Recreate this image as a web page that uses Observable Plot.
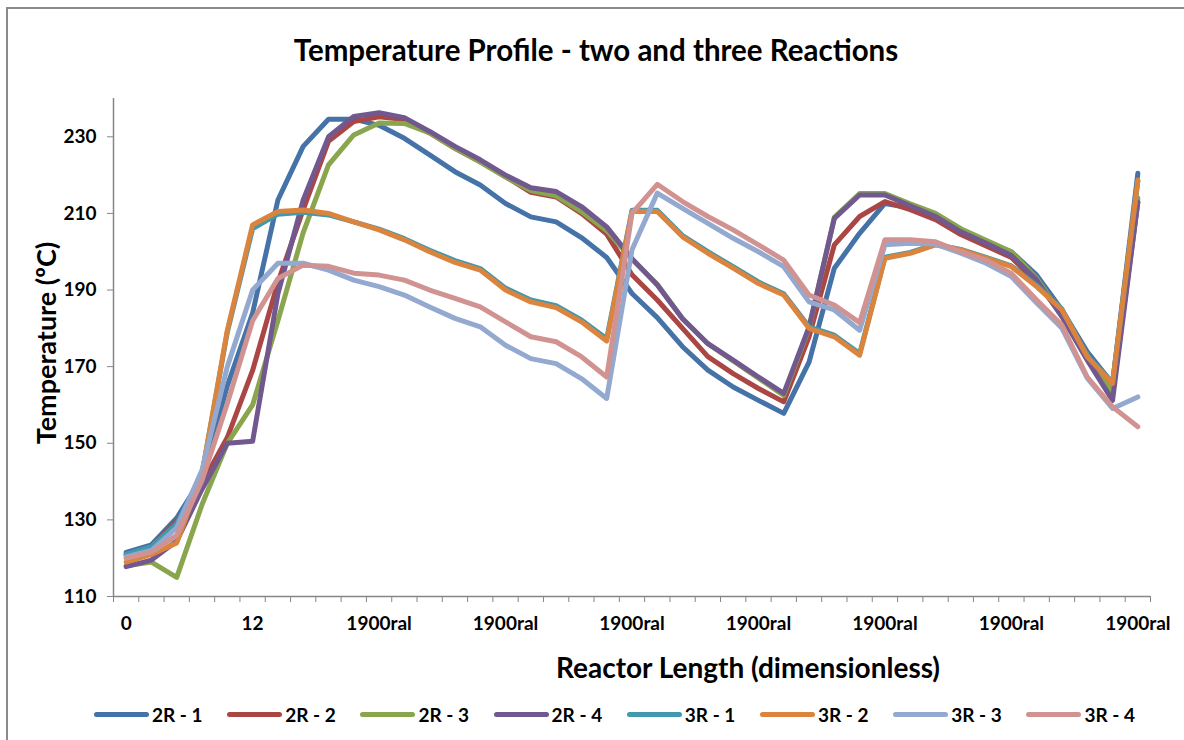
<!DOCTYPE html>
<html>
<head>
<meta charset="utf-8">
<script src="https://cdn.jsdelivr.net/npm/d3@7"></script>
<script src="https://cdn.jsdelivr.net/npm/@observablehq/plot@0.6"></script>
<style>
  body { margin: 0; background: #fff; font-family: Lato, "Open Sans", sans-serif; }
  #wrap { position: relative; width: 1184px; height: 740px; overflow: hidden; background: #fff; }
  #frame { position: absolute; left: 6px; top: 7px; width: 1220px; height: 800px; border: 2px solid #8a8a8a; box-sizing: border-box; }
  #chart { position: absolute; left: 0; top: 0; }
  .txt { position: absolute; font-weight: bold; color: #000; white-space: nowrap; line-height: 1.2; }
  #title { top: 32px; left: 596px; transform: translateX(-50%); font-size: 29.5px; }
  #xtitle { top: 651px; left: 748px; transform: translateX(-50%); font-size: 28px; }
  #ytitle { top: 343px; left: 46px; transform: translate(-50%, -50%) rotate(-90deg); font-size: 27px; }
  .leg { position: absolute; top: 703px; display: flex; align-items: center; font-weight: bold; font-size: 19px; white-space: nowrap; }
  .leg span.sw { display: inline-block; width: 55px; height: 5px; border-radius: 3px; margin-right: 3px; }
</style>
</head>
<body>
<div id="wrap">
  <div id="frame"></div>
  <div id="chart"></div>
  <div id="title" class="txt">Temperature Profile - two and three Reactions</div>
  <div id="xtitle" class="txt">Reactor Length (dimensionless)</div>
  <div id="ytitle" class="txt">Temperature (ºC)</div>
</div>
<script>
// ---- data ----
const seriesNames = ["2R - 1", "2R - 2", "2R - 3", "2R - 4", "3R - 1", "3R - 2", "3R - 3", "3R - 4"];
const seriesColors = ["#4572A7", "#AA4643", "#89A54E", "#71588F", "#4198AF", "#DB843D", "#93A9CF", "#D19392"];

// x tick labels shown every 5th category
const xTickLabels = ["0", "12", "1900ral", "1900ral", "1900ral", "1900ral", "1900ral", "1900ral", "1900ral"];
const yTicks = [110, 130, 150, 170, 190, 210, 230];

const s2R1 = [121.5, 123.5, 130.5, 141, 165, 184, 213.5, 227.5, 234.6, 234.6,
  233, 229.6, 225.3, 220.9, 217.4, 212.6, 209.1, 207.8, 203.7, 198.5,
  189.1, 182.8, 175.2, 169.1, 164.7, 161.2, 157.8, 171.2, 195.7, 204.8,
  212.6, 211.5, 209.2, 205.5, 202.5, 200, 193.9, 184.8, 173.9, 165.6,
  220.5];
const s2R2 = [120.8, 123, 129.6, 139.5, 151.5, 169, 192, 211, 228.8, 234,
  235.2, 234.5, 231, 227, 223.5, 219.6, 215.5, 214.3, 210, 204.6,
  194, 187.4, 180, 172.6, 168.2, 164.3, 160.8, 177.8, 201.8, 209.2,
  213.1, 211, 208.4, 204.5, 201.5, 198.5, 192, 183.5, 172, 163,
  213];
const s2R3 = [118, 119, 115, 134, 150, 160, 182, 205, 222.7, 230.5,
  233.6, 233.5, 231, 227, 223.4, 219.5, 216, 214.6, 210.5, 205.5,
  198, 191.5, 182.5, 176, 171.5, 167, 162.5, 180, 209, 215.2,
  215.2, 212.5, 210, 206, 203, 200, 193, 183.5, 173, 163.4,
  214];
const s2R4 = [117.8, 119.5, 124.5, 138, 150, 150.5, 189, 213.5, 230, 235.3,
  236.3, 235, 231.4, 227.5, 224, 220, 216.7, 215.7, 211.8, 206.5,
  198.2, 191.3, 182.5, 176, 171.7, 167.3, 163, 180.4, 208.7, 214.8,
  214.8, 212, 209.2, 205.2, 202.2, 199, 192.6, 183, 171.7, 161.2,
  213];
const s3R1 = [121, 123, 129, 142, 179, 206, 209.8, 210.3, 209.6, 207.8,
  205.9, 203.4, 200.4, 197.7, 195.6, 190.5, 187.4, 185.9, 182.2, 177.3,
  210.8, 210.8, 204.2, 200, 196.1, 192.1, 189, 180.4, 178.2, 173.4,
  198.6, 199.8, 201.9, 200.6, 198.5, 196.3, 191.2, 185, 172.8, 165.8,
  218.5];
const s3R2 = [119, 121, 124, 142, 179.5, 207, 210.5, 210.9, 210, 207.8,
  205.7, 203.1, 200, 197.2, 195.2, 190, 186.9, 185.4, 181.7, 176.7,
  210.5, 210.5, 203.9, 199.6, 195.7, 191.7, 188.7, 180, 177.8, 173,
  198.3, 199.6, 201.8, 200.5, 198.3, 196.1, 190.9, 184.8, 172.6, 165.6,
  218.7];
const s3R3 = [120.3, 122, 128, 143, 170, 190, 197, 197, 195.2, 192.6,
  190.9, 188.7, 185.6, 182.6, 180.4, 175.6, 172.1, 170.8, 166.9, 161.7,
  200.5, 215.3, 211.3, 207.4, 203.5, 200, 196.1, 186.9, 184.8, 179.5,
  201.8, 202.2, 202, 199.6, 197, 193.5, 186.6, 180, 167, 159.1,
  162.1];
const s3R4 = [120, 121.6, 126, 140.3, 160.4, 182, 193, 196.5, 196.2, 194.4,
  193.9, 192.6, 190, 187.8, 185.6, 181.7, 177.8, 176.5, 172.6, 167.3,
  210, 217.6, 213.1, 209.2, 205.7, 201.8, 197.8, 188.7, 186.1, 181.5,
  203.1, 203.1, 202.6, 200, 197.8, 194.3, 187.4, 180.8, 167.3, 159.5,
  154.3];

const allSeries = [s2R1, s2R2, s2R3, s2R4, s3R1, s3R2, s3R3, s3R4];

// ---- build table ----
const rows = [];
allSeries.forEach((arr, k) => arr.forEach((v, i) => rows.push({series: seriesNames[k], i, v})));
const nCat = s2R1.length;
const labelStep = 5;
const labelPositions = xTickLabels.map((_, j) => j * labelStep);
const boundaries = d3.range(nCat + 1).map(b => b - 0.5);

const axisGray = "#868686";
const chart = Plot.plot({
  width: 1184,
  height: 740,
  marginLeft: 113,
  marginRight: 34,
  marginTop: 98,
  marginBottom: 144,
  style: {fontFamily: "Lato, 'Open Sans', sans-serif", fontSize: "19px", fontWeight: "bold", color: "#000", background: "transparent", overflow: "visible"},
  x: {domain: [-0.5, nCat - 0.5], axis: null},
  y: {domain: [110, 240], axis: null},
  color: {domain: seriesNames, range: seriesColors},
  marks: [
    Plot.axisY({ticks: yTicks, tickSize: 6, tickPadding: 11, stroke: axisGray, fill: "#000", label: null, tickFormat: d => String(d)}),
    Plot.axisX({ticks: boundaries, tickSize: 6, stroke: axisGray, tickFormat: () => "", label: null}),
    Plot.axisX({ticks: labelPositions, tickSize: 0, tickPadding: 20, fill: "#000", label: null,
      tickFormat: d => xTickLabels[Math.round(d / labelStep)]}),
    Plot.ruleY([110], {stroke: axisGray, strokeWidth: 1.5}),
    Plot.ruleX([-0.5], {stroke: axisGray, strokeWidth: 1.5}),
    Plot.line(rows, {x: "i", y: "v", z: "series", stroke: "series", strokeWidth: 5, strokeLinejoin: "round", strokeLinecap: "round"})
  ]
});
document.getElementById("chart").appendChild(chart);

// ---- legend ----
const wrap = document.getElementById("wrap");
seriesNames.forEach((name, k) => {
  const d = document.createElement("div");
  d.className = "leg";
  d.style.left = (94 + k * 133.2) + "px";
  const sw = document.createElement("span");
  sw.className = "sw";
  sw.style.background = seriesColors[k];
  d.appendChild(sw);
  d.appendChild(document.createTextNode(name));
  wrap.appendChild(d);
});
</script>
</body>
</html>
